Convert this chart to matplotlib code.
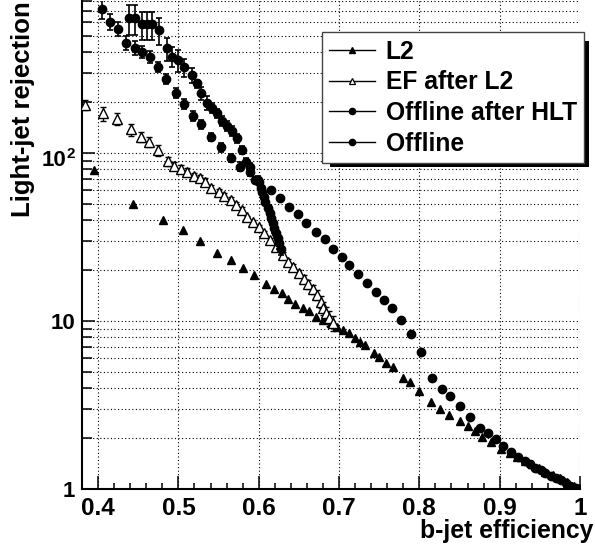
import matplotlib
matplotlib.use('Agg')
import matplotlib.pyplot as plt
from matplotlib.ticker import FixedLocator, FixedFormatter, MultipleLocator, LogLocator, NullFormatter
from matplotlib.lines import Line2D
from matplotlib.patches import Rectangle
from matplotlib.transforms import ScaledTranslation

plt.rcParams['font.family'] = ['Liberation Sans', 'DejaVu Sans']
plt.rcParams['font.weight'] = 'bold'

# ---------------- data ----------------
l2_eff = [0.395, 0.444, 0.481, 0.506, 0.527, 0.548, 0.566, 0.581, 0.594, 0.609, 0.619, 0.629, 0.636,
          0.645, 0.655, 0.663, 0.671, 0.680, 0.690, 0.698, 0.705, 0.713, 0.720, 0.726, 0.732, 0.743,
          0.750, 0.759, 0.767, 0.780, 0.788, 0.800, 0.815, 0.826, 0.837, 0.850, 0.860, 0.869, 0.878,
          0.889, 0.902, 0.913, 0.922, 0.931, 0.940, 0.949, 0.957, 0.966, 0.975, 0.984, 0.992, 1.0]
l2_rej = [79.2, 49.6, 39.9, 34.8, 29.9, 25.5, 23.1, 20.8, 18.8, 16.6, 15.5, 14.6, 13.6,
          12.7, 12.0, 11.4, 10.6, 10.1, 9.69, 9.25, 8.84, 8.45, 7.89, 7.50, 7.20, 6.42,
          6.08, 5.60, 5.30, 4.56, 4.33, 3.83, 3.31, 3.01, 2.77, 2.54, 2.37, 2.21, 2.05,
          1.905, 1.73, 1.63, 1.54, 1.47, 1.40, 1.33, 1.27, 1.21, 1.155, 1.10, 1.049, 1.0]

ef_eff = [0.384, 0.406, 0.424, 0.441, 0.453, 0.463, 0.475, 0.487, 0.495, 0.503, 0.511, 0.520, 0.527,
          0.533, 0.541, 0.550, 0.557, 0.565, 0.572, 0.579, 0.585, 0.593, 0.600, 0.607, 0.614, 0.621,
          0.630, 0.637, 0.643, 0.650, 0.656, 0.661, 0.667, 0.673, 0.677, 0.680, 0.684, 0.688, 0.693]
ef_rej = [194, 172, 159, 138, 125, 117, 104, 89.3, 83.9, 80.3, 77.4, 73.0, 70.7,
          67.5, 62.3, 58.8, 55.5, 52.5, 49.0, 45.8, 41.4, 39.0, 36.4, 33.5, 30.4, 27.7,
          24.7, 22.5, 20.9, 19.2, 17.8, 16.6, 15.4, 14.3, 13.0, 11.9, 11.1, 10.4, 9.69]
ef_err = [14, 16, 13, 11, 9, 8, 8, 6, 5, 4, 4, 3, 3,
          3, 2, 2, 2, 2, 2, 2, 1, 1, 1, 1, 1, 1,
          1, 1, 1, 1, 1, 1, 1, 1, 1, 1, 1, 1, 1]

hlt_eff = [0.438, 0.446, 0.4545, 0.461, 0.467, 0.476, 0.486, 0.492, 0.499, 0.507, 0.517, 0.523, 0.528,
           0.5355, 0.542, 0.548, 0.554, 0.5605, 0.567, 0.573, 0.579, 0.5845, 0.5895, 0.596, 0.600,
           0.603, 0.604, 0.606, 0.608, 0.611, 0.6136, 0.6153, 0.6173, 0.6195, 0.6216, 0.6236, 0.6257, 0.6278]
hlt_rej = [634, 634, 583, 583, 583, 540, 420, 374, 358, 326, 291, 260, 229,
           198, 185, 172, 154, 145, 135, 122, 104, 88.8, 82.9, 69.1, 67.5,
           61.6, 58.8, 55.0, 51.3, 46.9, 43.8, 40.9, 38.2, 35.6, 33.3, 31.1, 29.0, 26.7]
hlt_err_up = [127, 127, 110, 110, 110, 94, 62, 55, 53, 35, 28, 12, 18,
              19, 13, 12, 11, 10, 9, 8, 6, 5, 4, 3, 3,
              2, 2, 2, 2, 2, 2, 2, 2, 2, 2, 2, 2, 2]
hlt_err_dn = [130, 130, 113, 113, 113, 100, 68, 48, 53, 44, 31, 17, 22,
              18, 12, 11, 10, 9, 8, 7, 6, 5, 4, 3, 3,
              2, 2, 2, 2, 2, 2, 2, 2, 2, 2, 2, 2, 2]

off_eff = [0.405, 0.415, 0.425, 0.435, 0.4455, 0.4545, 0.465, 0.475, 0.485, 0.497, 0.507, 0.5176,
           0.528, 0.541, 0.553, 0.565, 0.577, 0.5895, 0.5995, 0.615, 0.627, 0.638, 0.6485, 0.659,
           0.671, 0.682, 0.693, 0.704, 0.713, 0.723, 0.735, 0.746, 0.756, 0.766, 0.777, 0.789,
           0.802, 0.816, 0.828, 0.838, 0.8505, 0.8626, 0.875, 0.885, 0.895, 0.904, 0.914, 0.923,
           0.931, 0.938, 0.944, 0.951, 0.957, 0.964, 0.970, 0.976, 0.982, 0.988, 0.995, 1.0]
off_rej = [717, 605, 545, 450, 420, 397, 374, 326, 276, 228, 195, 166,
           148, 125, 108, 93.0, 82.9, 77.4, 69.1, 60.2, 53.8, 47.9, 43.2, 38.1,
           34.0, 30.6, 26.8, 24.0, 21.5, 19.0, 16.9, 14.9, 13.4, 11.9, 10.1, 8.37,
           6.58, 4.57, 3.95, 3.59, 3.11, 2.69, 2.30, 2.15, 1.98, 1.81, 1.665, 1.544,
           1.472, 1.405, 1.339, 1.289, 1.245, 1.203, 1.163, 1.124, 1.086, 1.049, 1.014, 1.0]
off_err_up = [105, 70, 55, 45, 42, 34, 32, 23, 20, 16, 14, 11,
              10, 7, 6, 5, 5, 4, 4, 0, 0, 0, 0, 0,
              0, 0, 0, 0, 0, 0, 0, 0, 0, 0, 0, 0,
              0, 0, 0, 0, 0, 0, 0, 0, 0, 0, 0, 0,
              0, 0, 0, 0, 0, 0, 0, 0, 0, 0, 0, 0]
off_err_dn = [92, 63, 50, 41, 39, 31, 30, 22, 18, 15, 13, 10,
              9, 7, 6, 5, 5, 4, 4, 0, 0, 0, 0, 0,
              0, 0, 0, 0, 0, 0, 0, 0, 0, 0, 0, 0,
              0, 0, 0, 0, 0, 0, 0, 0, 0, 0, 0, 0,
              0, 0, 0, 0, 0, 0, 0, 0, 0, 0, 0, 0]

x_ticks = [0.4, 0.5, 0.6, 0.7, 0.8, 0.9, 1.0]
x_tick_labels = ['0.4', '0.5', '0.6', '0.7', '0.8', '0.9', '1']
y_ticks = [1, 10, 100]
y_tick_labels = ['1', '10', '10']      # mantissas
y_tick_exponents = ['', '', '2']       # drawn as superscripts
legend_labels = ['L2', 'EF after L2', 'Offline after HLT', 'Offline']

# ---------------- figure ----------------
W, H = 595, 554
fig = plt.figure(figsize=(W / 100, H / 100), dpi=100)
ax = fig.add_axes([82 / W, 1 - 489 / H, (580 - 82) / W, 488 / H])
ax.set_yscale('log')
ax.set_xlim(0.38, 1.0)
ax.set_ylim(1, 803)

grid_kw = dict(color='k', lw=0.8, ls=(0, (1, 2.2)))
ax.grid(True, which='major', axis='both', **grid_kw)
ax.grid(True, which='minor', axis='y', **grid_kw)
ax.set_axisbelow(True)

ax.plot(l2_eff, l2_rej, ls='none', marker='^', ms=5.5, color='k', zorder=3)
ax.errorbar(ef_eff, ef_rej, yerr=ef_err, fmt='^', ms=6.5, mfc='white', mec='k', mew=1.0,
            ecolor='k', elinewidth=1.0, capsize=2.3, capthick=1.0, zorder=3)
ax.errorbar(hlt_eff, hlt_rej, yerr=[hlt_err_dn, hlt_err_up], fmt='o', ms=6, color='k',
            ecolor='k', elinewidth=1.2, capsize=2.4, capthick=1.2, zorder=4)
ax.errorbar(off_eff, off_rej, yerr=[off_err_dn, off_err_up], fmt='o', ms=6, color='k',
            ecolor='k', elinewidth=1.2, capsize=2.4, capthick=1.2, zorder=4)

ax.xaxis.set_major_locator(FixedLocator(x_ticks))
ax.xaxis.set_major_formatter(FixedFormatter(x_tick_labels))
ax.xaxis.set_minor_locator(MultipleLocator(0.02))
ax.yaxis.set_major_locator(FixedLocator(y_ticks))
ax.yaxis.set_major_formatter(FixedFormatter(y_tick_labels))
ax.yaxis.set_minor_locator(LogLocator(base=10, subs=[2, 3, 4, 5, 6, 7, 8, 9]))
ax.yaxis.set_minor_formatter(NullFormatter())

ax.tick_params(axis='both', which='both', direction='in', top=False, right=False, width=1.1)
ax.tick_params(axis='x', which='major', length=9.4, pad=6, labelsize=17.5)
ax.tick_params(axis='x', which='minor', length=4.3)
ax.tick_params(axis='y', which='major', length=9.4, pad=5, labelsize=16)
ax.tick_params(axis='y', which='minor', length=7.2)
for s in ('top', 'right'):
    ax.spines[s].set_visible(False)
for s in ('left', 'bottom'):
    ax.spines[s].set_linewidth(1.5)

fig.text(593 / W, 1 - 538 / H, 'b-jet efficiency', ha='right', va='baseline',
         fontsize=17.8, fontweight='bold')
fig.text(23 / W, 1 - 1 / H, 'Light-jet rejection', ha='center', va='top', rotation=90,
         fontsize=18.5, fontweight='bold')

handles = [
    Line2D([], [], color='k', lw=1, marker='^', ms=4.5),
    Line2D([], [], color='k', lw=1, marker='^', ms=5, mfc='white', mew=0.9),
    Line2D([], [], color='k', lw=1, marker='o', ms=4.5),
    Line2D([], [], color='k', lw=1, marker='o', ms=4.5),
]
leg = ax.legend(handles, legend_labels, loc='upper left',
                bbox_to_anchor=(321.7 / W, 1 - 32.3 / H), bbox_transform=fig.transFigure,
                borderaxespad=0, fontsize=17.7, frameon=True, fancybox=False,
                edgecolor='#444444', framealpha=1, handlelength=1.85, handletextpad=0.45,
                labelspacing=0.27, borderpad=0.3)
leg.get_frame().set_linewidth(1.0)
leg.set_zorder(6)

fig.canvas.draw()
renderer = fig.canvas.get_renderer()
inv = fig.transFigure.inverted()

# superscript exponents: whole "10^2" right-aligned like the other labels
for tick, expo in zip(ax.yaxis.get_major_ticks(), y_tick_exponents):
    if not expo:
        continue
    lab = tick.label1
    tb = lab.get_window_extent(renderer)
    yc = (tb.y0 + tb.y1) / 2
    ex, ey = inv.transform((tb.x1, yc + 8))
    et = fig.text(ex, ey, expo, ha='right', va='top', fontsize=11, fontweight='bold')
    w_exp = et.get_window_extent(renderer).width
    lab.set_transform(lab.get_transform() +
                      ScaledTranslation(-(w_exp + 0.5) / 100, -5 / 100, fig.dpi_scale_trans))

bb = leg.get_window_extent()
(x0, y0) = inv.transform((bb.x0 + 8, bb.y0 - 4))
(x1, y1) = inv.transform((bb.x1 + 5, bb.y1 - 9))
shadow = Rectangle((x0, y0), x1 - x0, y1 - y0, transform=fig.transFigure,
                   facecolor='k', edgecolor='none', zorder=5.5, clip_on=False)
ax.add_artist(shadow)

fig.savefig('out.png', dpi=100)
